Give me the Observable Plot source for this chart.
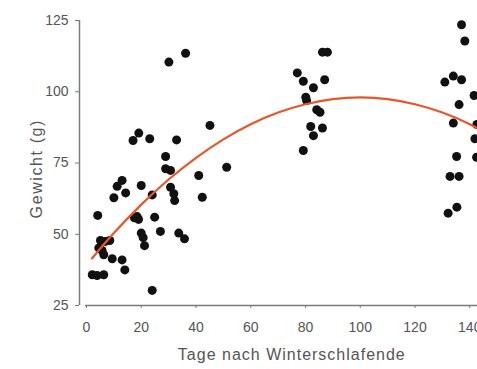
<!DOCTYPE html>
<html>
<head>
<meta charset="utf-8">
<script src="https://cdn.jsdelivr.net/npm/d3@7"></script>
<script src="https://cdn.jsdelivr.net/npm/@observablehq/plot@0.6"></script>
<style>
  html, body { margin: 0; padding: 0; background: #fff; overflow: hidden; }
  #chart { width: 477px; height: 369px; overflow: hidden; }
  #chart svg { max-width: none !important; width: 540px !important; height: 369px !important; }
  .xtitle text { letter-spacing: 1px; }
  .ytitle text { letter-spacing: 1.6px; }
</style>
</head>
<body>
<div id="chart"></div>
<script>
// Tage nach Winterschlafende (x) and Gewicht in g (y)
const days = [
  2.1, 3.9, 6.3, 4.1, 5.1, 6.9, 8.5, 4.5, 5.7, 6.3, 9.4, 13, 14, 10, 11.2, 13, 14.3,
  17, 19.1, 20, 17.5, 18.5, 19, 20, 20.7, 21.2, 23.1, 24, 24.9, 24, 27, 28.9, 28.9,
  30.7, 30.1, 36.2, 30.7, 31.9, 32.2, 32.9, 33.7, 35.8, 41, 42.3, 45.1, 51.2,
  86.2, 88, 77, 79.2, 87, 82.9, 80.1, 80.4, 84.1, 85.3, 81.9, 86.2, 82.9, 79.2,
  130.9, 134, 137, 141.6, 136.1, 134, 142.6, 141.9, 142.5, 135.2, 132.8, 136.1,
  135.3, 132.1, 137, 138.2
];
const weight = [
  35.8, 35.5, 35.8, 56.6, 47.8, 47.5, 47.8, 45.2, 44.3, 42.8, 41.4, 41, 37.5, 62.8, 66.8, 68.9, 64.5,
  82.9, 85.5, 67.1, 55.8, 56.2, 55.2, 50.4, 48.8, 46, 83.5, 63.8, 56, 30.3, 51, 77.3, 73,
  72.4, 110.4, 113.5, 66.5, 64.2, 61.8, 83.1, 50.4, 48.4, 70.6, 63, 88.2, 73.5,
  113.9, 113.9, 106.6, 103.7, 104.2, 101.4, 98.1, 96.9, 93.7, 92.8, 87.8, 87.3, 84.6, 79.4,
  103.4, 105.5, 104.2, 98.7, 95.5, 89, 88.5, 83.5, 77, 77.3, 70.3, 70.3,
  59.5, 57.4, 123.5, 117.8
];
// fitted curve
const fitDays = [2, 10, 20, 30, 40, 50, 60, 70, 80, 90, 100, 110, 120, 130, 140, 150];
const fitWeight = [41.5, 50.4, 60.4, 69.2, 76.8, 83.3, 88.6, 92.7, 95.6, 97.4, 98, 97.4, 95.6, 92.7, 88.6, 83.3];

const xTicks = [0, 20, 40, 60, 80, 100, 120, 140];
const yTicks = [25, 50, 75, 100, 125];
const xLabel = "Tage nach Winterschlafende";
const yLabel = "Gewicht (g)";

const points = days.map((d, i) => ({day: d, weight: weight[i]}));
const fit = fitDays.map((d, i) => ({day: d, weight: fitWeight[i]}));

const axisColor = "#7a7a7a";
const textColor = "#555";

const chart = Plot.plot({
  width: 540,
  height: 369,
  marginLeft: 86,
  marginRight: 16,
  marginTop: 20,
  marginBottom: 64,
  style: {fontFamily: "'Liberation Sans', Arial, sans-serif", background: "#fff", overflow: "visible", maxWidth: "none"},
  x: {domain: [0, 160]},
  y: {domain: [25, 125]},
  marks: [
    Plot.ruleX([0], {y1: 25, y2: 125, dx: -7, stroke: axisColor, strokeWidth: 1.5}),
    Plot.ruleY([25], {x1: 0, x2: 160, dx: -1, stroke: axisColor, strokeWidth: 1.5}),
    Plot.axisY({ticks: yTicks, tickSize: 4, tickPadding: 7, dx: -7, stroke: axisColor, color: textColor, fontSize: 14, label: null}),
    Plot.axisX({ticks: xTicks, tickSize: 3, tickPadding: 14, stroke: axisColor, color: textColor, fontSize: 14, label: null}),
    Plot.dot(points, {x: "day", y: "weight", r: 4.5, fill: "#111", stroke: "none"}),
    Plot.line(fit, {x: "day", y: "weight", curve: "natural", stroke: "#e8562a", strokeWidth: 2.2}),
    Plot.text([xLabel], {frameAnchor: "bottom", x: 75, dy: 54, fontSize: 16, fill: textColor, className: "xtitle"}),
    Plot.text([yLabel], {frameAnchor: "left", y: 73, dx: -50, rotate: -90, textAnchor: "middle", fontSize: 16, fill: textColor, className: "ytitle"})
  ]
});
document.getElementById("chart").appendChild(chart);
</script>
</body>
</html>
